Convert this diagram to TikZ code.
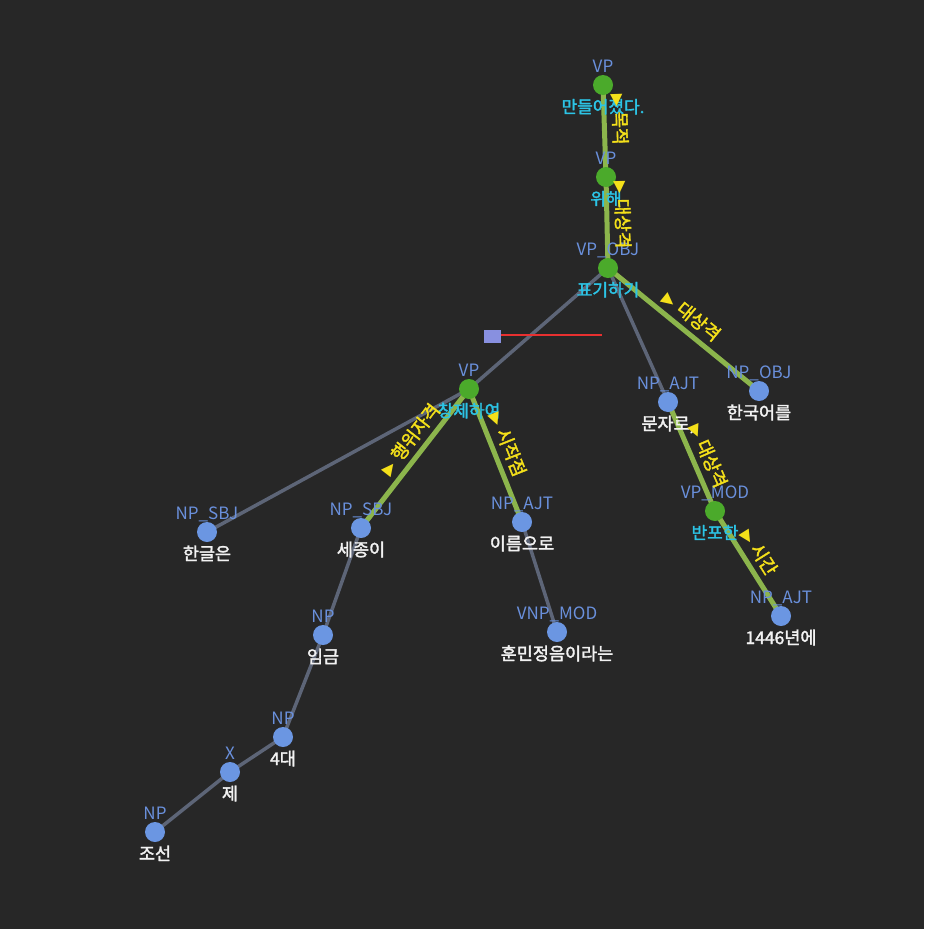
\documentclass[tikz,border=0pt]{standalone}
\usepackage{fontspec}
\setmainfont{Noto Sans CJK KR}[AutoFakeBold=2]
\newfontfamily\symf{DejaVu Sans}
\definecolor{bgc}{HTML}{272727}
\definecolor{gedgec}{HTML}{8CB54C}
\definecolor{xedgec}{HTML}{5D6577}
\definecolor{gdotc}{HTML}{4BAA2B}
\definecolor{bdotc}{HTML}{6B96E2}
\definecolor{typec}{HTML}{6A90DC}
\definecolor{cyanc}{HTML}{2CC4E6}
\definecolor{whitec}{HTML}{F2F2F2}
\definecolor{ylwc}{HTML}{F4E01A}
\definecolor{rectc}{HTML}{8890E0}
\definecolor{redc}{HTML}{E83030}
\pgfdeclarelayer{edges}
\pgfsetlayers{edges,main}
\newcommand\tri{{\symf\fontsize{16}{16}\selectfont ▶}\hspace{5pt}}
\newcommand\treenode[7]{%
  \node[#4dot] (#1) at (#2,#3) {};
  \node[typetxt] at (#2,#3-13) {#5};
  \node[#7] at (#2,#3+28) {#6};
}
\begin{document}
\begin{tikzpicture}[x=1pt,y=-1pt,
  gdot/.style={circle,fill=gdotc,minimum size=20pt,inner sep=0pt},
  bdot/.style={circle,fill=bdotc,minimum size=20pt,inner sep=0pt},
  typetxt/.style={anchor=base,inner sep=0pt,text=typec,font=\fontsize{17}{17}\selectfont},
  wword/.style={anchor=base,inner sep=0pt,text=whitec,font=\bfseries\fontsize{17.5}{17.5}\selectfont},
  cword/.style={anchor=base,inner sep=0pt,text=cyanc,font=\bfseries\fontsize{17}{17}\selectfont},
  gedge/.style={draw=gedgec,line width=5pt},
  xedge/.style={draw=xedgec,line width=3.5pt},
  elbl/.style={sloped,above=7pt,inner sep=0pt,text=ylwc,font=\bfseries\fontsize{18}{18}\selectfont}]
\begin{pgfonlayer}{edges}
\fill[bgc] (0,0) rectangle (924,929);
\end{pgfonlayer}
\useasboundingbox (0,0) rectangle (924,929);
% nodes
\treenode{g1}{603}{85}{g}{VP}{만들어졌다.}{cword}
\treenode{g2}{606}{177}{g}{VP}{위해}{cword}
\treenode{g3}{608}{268}{g}{VP\_OBJ}{표기하기}{cword}
\treenode{g4}{469}{389}{g}{VP}{창제하여}{cword}
\treenode{b1}{207}{532}{b}{NP\_SBJ}{한글은}{wword}
\treenode{b2}{361}{528}{b}{NP\_SBJ}{세종이}{wword}
\treenode{b3}{522}{522}{b}{NP\_AJT}{이름으로}{wword}
\treenode{b4}{557}{632}{b}{VNP\_MOD}{훈민정음이라는}{wword}
\treenode{b5}{323}{635}{b}{NP}{임금}{wword}
\treenode{b6}{283}{737}{b}{NP}{4대}{wword}
\treenode{b7}{230}{772}{b}{X}{제}{wword}
\treenode{b8}{155}{832}{b}{NP}{조선}{wword}
\treenode{b9}{668}{402}{b}{NP\_AJT}{문자로,}{wword}
\treenode{b10}{759}{391}{b}{NP\_OBJ}{한국어를}{wword}
\treenode{g5}{715}{511}{g}{VP\_MOD}{반포한}{cword}
\treenode{b11}{781}{616}{b}{NP\_AJT}{1446년에}{wword}
% edges
\begin{pgfonlayer}{edges}
\draw[xedge] (g3.center) -- (g4.center);
\draw[xedge] (g4.center) -- (b1.center);
\draw[xedge] (g3.center) -- (b9.center);
\draw[xedge] (b3.center) -- (b4.center);
\draw[xedge] (b2.center) -- (b5.center);
\draw[xedge] (b5.center) -- (b6.center);
\draw[xedge] (b6.center) -- (b7.center);
\draw[xedge] (b7.center) -- (b8.center);
\draw[gedge] (g1.center) -- (g2.center);
\draw[gedge] (g2.center) -- (g3.center);
\draw[gedge] (g3.center) -- (b10.center);
\draw[gedge] (g4.center) -- (b2.center);
\draw[gedge] (g4.center) -- (b3.center);
\draw[gedge] (b9.center) -- (g5.center);
\draw[gedge] (g5.center) -- (b11.center);
\end{pgfonlayer}
% edge labels
\path (g1.center) -- (g2.center) node[elbl,pos=0.38] {\tri 목적};
\path (g2.center) -- (g3.center) node[elbl,pos=0.42] {\tri 대상격};
\path (g3.center) -- (b10.center) node[elbl,pos=0.49] {\tri 대상격};
\path (g4.center) -- (b2.center) node[elbl,pos=0.43] {\tri 행위자격};
\path (g4.center) -- (b3.center) node[elbl,pos=0.46] {\tri 시작점};
\path (b9.center) -- (g5.center) node[elbl,pos=0.55] {\tri 대상격};
\path (g5.center) -- (b11.center) node[elbl,pos=0.47] {\tri 시간};
% stray marks
\fill[rectc] (484,330) rectangle (501,343);
\draw[draw=redc,line width=1.2pt] (501,335) -- (602,335);
\end{tikzpicture}
\end{document}
